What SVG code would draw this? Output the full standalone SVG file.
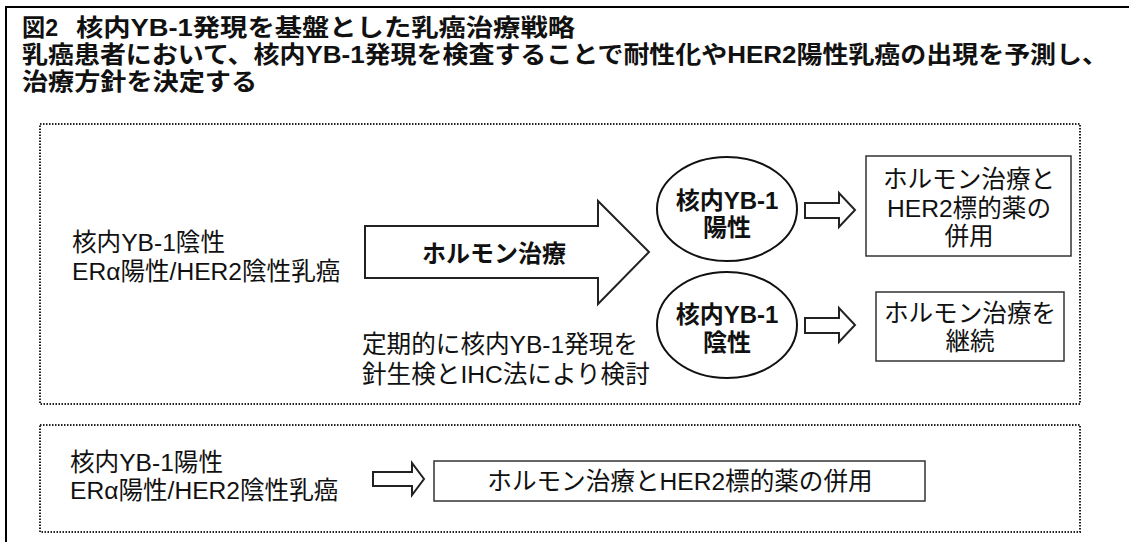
<svg xmlns="http://www.w3.org/2000/svg" width="1129" height="542" viewBox="0 0 1129 542">
<style>
text{font-family:"Liberation Sans","Noto Sans CJK JP",sans-serif;fill:#111;}
.t{font-size:24px;font-weight:bold;}
.n{font-size:24.6px;}
.b{font-size:24px;font-weight:bold;}
.c{text-anchor:middle;}
.dot{fill:none;stroke:#222;stroke-width:2;stroke-dasharray:1.5 1.5;}
.box{fill:#fff;stroke:#333;stroke-width:1.5;}
.ell{fill:#fff;stroke:#111;stroke-width:2;}
.arr{fill:#fff;stroke:#222;stroke-width:2;stroke-linejoin:miter;}
</style>
<rect width="1129" height="542" fill="#fff"/>
<path d="M1129,7 H6 V542" fill="none" stroke="#000" stroke-width="2"/>
<g id="title">
<text class="t" x="22" y="36" textLength="36" lengthAdjust="spacingAndGlyphs">図2</text>
<text class="t" x="76" y="36" textLength="499" lengthAdjust="spacingAndGlyphs">核内YB-1発現を基盤とした乳癌治療戦略</text>
<text class="t" x="22" y="63" textLength="1086" lengthAdjust="spacingAndGlyphs">乳癌患者において、核内YB-1発現を検査することで耐性化やHER2陽性乳癌の出現を予測し、</text>
<text class="t" x="22" y="90" textLength="235" lengthAdjust="spacingAndGlyphs">治療方針を決定する</text>
</g>
<g id="panel1">
<rect class="dot" x="40" y="124" width="1040" height="280"/>
</g>
<g id="panel2">
<rect class="dot" x="40" y="425" width="1040" height="107"/>
</g>
<g id="connectors">
<path id="bigArrow" class="arr" d="M365,226 H598 V201 L649,252 L598,304 V278 H365 Z"/>
<path class="arr" d="M805,203 H839 V193 L855,210 L839,227 V218 H805 Z"/>
<path class="arr" d="M805,318 H839 V308 L855,325 L839,342 V333 H805 Z"/>
<path class="arr" d="M373,472 H412 V463 L424,479 L412,495 V486 H373 Z"/>
</g>
<g id="src-neg">
<text class="n" x="72" y="251">核内YB-1陰性</text>
<text class="n" x="72" y="280">ERα陽性/HER2陰性乳癌</text>
</g>
<g id="hormone-label">
<text class="b c" x="494" y="262">ホルモン治療</text>
</g>
<g id="note">
<text class="n" x="362" y="353">定期的に核内YB-1発現を</text>
<text class="n" x="362" y="383">針生検とIHC法により検討</text>
</g>
<g id="ell-pos">
<ellipse class="ell" cx="727" cy="209" rx="70" ry="52"/>
<text class="b c" x="727" y="209">核内YB-1</text>
<text class="b c" x="727" y="236">陽性</text>
</g>
<g id="ell-neg">
<ellipse class="ell" cx="727" cy="325" rx="70" ry="53"/>
<text class="b c" x="727" y="323">核内YB-1</text>
<text class="b c" x="727" y="351">陰性</text>
</g>
<g id="box-combo">
<rect class="box" x="866" y="156" width="205" height="100"/>
<text class="n c" x="969" y="188">ホルモン治療と</text>
<text class="n c" x="969" y="217">HER2標的薬の</text>
<text class="n c" x="969" y="245">併用</text>
</g>
<g id="box-continue">
<rect class="box" x="876" y="292" width="188" height="69"/>
<text class="n c" x="970" y="322">ホルモン治療を</text>
<text class="n c" x="970" y="350">継続</text>
</g>
<g id="src-pos">
<text class="n" x="70" y="471">核内YB-1陽性</text>
<text class="n" x="70" y="499">ERα陽性/HER2陰性乳癌</text>
</g>
<g id="box-bottom">
<rect class="box" x="434" y="461" width="491" height="40"/>
<text class="n c" x="680" y="490">ホルモン治療とHER2標的薬の併用</text>
</g>
</svg>
